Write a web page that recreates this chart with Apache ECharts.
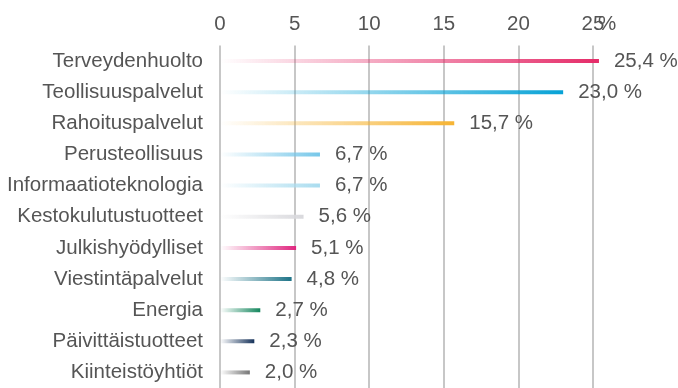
<!DOCTYPE html>
<html>
<head>
<meta charset="utf-8">
<script src="https://cdn.jsdelivr.net/npm/echarts@6/dist/echarts.min.js"></script>
<style>
  html, body { margin: 0; padding: 0; background: #ffffff; }
  #chart { width: 678px; height: 388px; }
</style>
</head>
<body>
<div id="chart"></div>
<script>
// Sector weights (%)
var categories = [
  'Terveydenhuolto', 'Teollisuuspalvelut', 'Rahoituspalvelut', 'Perusteollisuus',
  'Informaatioteknologia', 'Kestokulutustuotteet', 'Julkishyödylliset',
  'Viestintäpalvelut', 'Energia', 'Päivittäistuotteet', 'Kiinteistöyhtiöt'
];
var weights = [25.4, 23.0, 15.7, 6.7, 6.7, 5.6, 5.1, 4.8, 2.7, 2.3, 2.0];
var barColors = [
  '#e52c69', '#07a2d6', '#f6b434', '#76c7e9', '#a9dcef', '#d9d9dd',
  '#e0267f', '#1d7387', '#14865d', '#16325a', '#767676'
];
var axisTicks = [0, 5, 10, 15, 20, 25];
var unitLabel = '%';

function hexToRgba(hex, a) {
  var n = parseInt(hex.slice(1), 16);
  return 'rgba(' + ((n >> 16) & 255) + ',' + ((n >> 8) & 255) + ',' + (n & 255) + ',' + a + ')';
}

var font = '"Liberation Sans", Arial, Helvetica, sans-serif';
var textColor = '#555555';
var fontSize = 20.5;
var axisMin = axisTicks[0];
var axisMax = axisTicks[axisTicks.length - 1];

var chart = echarts.init(document.getElementById('chart'), null, { renderer: 'canvas' });

var barData = weights.map(function (v, i) {
  return {
    value: v,
    itemStyle: {
      color: new echarts.graphic.LinearGradient(0, 0, 1, 0, [
        { offset: 0, color: hexToRgba(barColors[i], 0) },
        { offset: 1, color: barColors[i] }
      ])
    }
  };
});

chart.setOption({
  animation: false,
  grid: { left: 220, top: 45.5, width: 373, height: 348, containLabel: false },
  xAxis: [{
    type: 'value',
    position: 'top',
    min: axisMin,
    max: axisMax,
    interval: 5,
    axisLine: { show: false },
    axisTick: { show: false },
    axisLabel: { color: textColor, fontSize: fontSize, fontFamily: font, margin: 11 },
    splitLine: { show: true, lineStyle: { color: '#b4b4b4', width: 1.5 } }
  }, {
    // unit marker placed just after the last tick
    type: 'value',
    position: 'top',
    min: axisMin,
    max: axisMax,
    interval: 5,
    axisLine: { show: false },
    axisTick: { show: false },
    splitLine: { show: false },
    axisLabel: {
      color: textColor, fontSize: fontSize, fontFamily: font, margin: 11,
      align: 'left', padding: [0, 0, 0, 5],
      formatter: function (v) { return v === axisMax ? unitLabel : ''; }
    }
  }],
  yAxis: {
    type: 'category',
    data: categories,
    inverse: true,
    axisLine: { show: false },
    axisTick: { show: false },
    axisLabel: { color: textColor, fontSize: fontSize, fontFamily: font, margin: 17 }
  },
  series: [{
    type: 'bar',
    xAxisIndex: 0,
    data: barData,
    barWidth: 4,
    clip: false,
    label: {
      show: true,
      position: 'right',
      distance: 15,
      color: textColor,
      fontSize: fontSize,
      fontFamily: font,
      formatter: function (p) { return p.value.toFixed(1).replace('.', ',') + ' %'; }
    }
  }]
});
</script>
</body>
</html>
